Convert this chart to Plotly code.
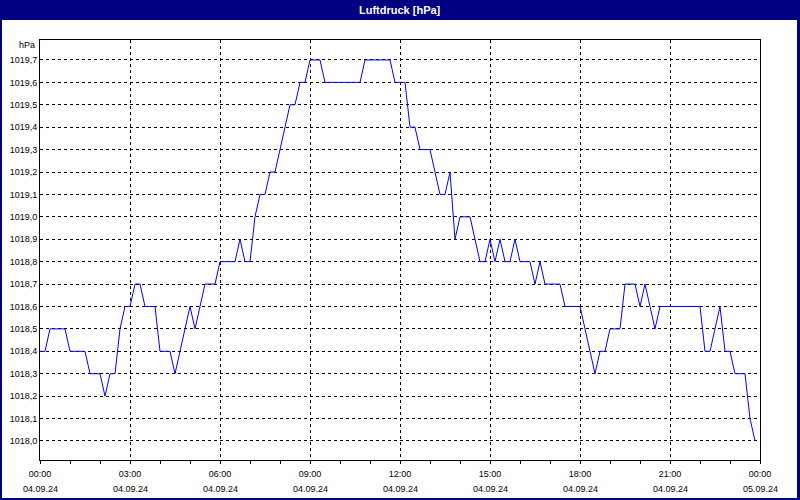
import plotly.graph_objects as go
import pandas as pd

# ---- data (hPa, 10-minute readings, 04.09.24 00:00 .. 23:50) ----
start_time = "2024-09-04 00:00"
step = "10min"
pressure = [
    1018.4, 1018.4, 1018.5, 1018.5, 1018.5, 1018.5, 1018.4, 1018.4, 1018.4, 1018.4,
    1018.3, 1018.3, 1018.3, 1018.2, 1018.3, 1018.3, 1018.5, 1018.6, 1018.6, 1018.7,
    1018.7, 1018.6, 1018.6, 1018.6, 1018.4, 1018.4, 1018.4, 1018.3, 1018.4, 1018.5,
    1018.6, 1018.5, 1018.6, 1018.7, 1018.7, 1018.7, 1018.8, 1018.8, 1018.8, 1018.8,
    1018.9, 1018.8, 1018.8, 1019.0, 1019.1, 1019.1, 1019.2, 1019.2, 1019.3, 1019.4,
    1019.5, 1019.5, 1019.6, 1019.6, 1019.7, 1019.7, 1019.7, 1019.6, 1019.6, 1019.6,
    1019.6, 1019.6, 1019.6, 1019.6, 1019.6, 1019.7, 1019.7, 1019.7, 1019.7, 1019.7,
    1019.7, 1019.6, 1019.6, 1019.6, 1019.4, 1019.4, 1019.3, 1019.3, 1019.3, 1019.2,
    1019.1, 1019.1, 1019.2, 1018.9, 1019.0, 1019.0, 1019.0, 1018.9, 1018.8, 1018.8,
    1018.9, 1018.8, 1018.9, 1018.8, 1018.8, 1018.9, 1018.8, 1018.8, 1018.8, 1018.7,
    1018.8, 1018.7, 1018.7, 1018.7, 1018.7, 1018.6, 1018.6, 1018.6, 1018.6, 1018.5,
    1018.4, 1018.3, 1018.4, 1018.4, 1018.5, 1018.5, 1018.5, 1018.7, 1018.7, 1018.7,
    1018.6, 1018.7, 1018.6, 1018.5, 1018.6, 1018.6, 1018.6, 1018.6, 1018.6, 1018.6,
    1018.6, 1018.6, 1018.6, 1018.4, 1018.4, 1018.5, 1018.6, 1018.4, 1018.4, 1018.3,
    1018.3, 1018.3, 1018.1, 1018.0,
]
times = pd.date_range(start_time, periods=len(pressure), freq=step)

x_ticks = ["2024-09-04 00:00", "2024-09-04 03:00", "2024-09-04 06:00", "2024-09-04 09:00",
           "2024-09-04 12:00", "2024-09-04 15:00", "2024-09-04 18:00", "2024-09-04 21:00",
           "2024-09-05 00:00"]
x_time_labels = ["00:00", "03:00", "06:00", "09:00", "12:00", "15:00", "18:00", "21:00", "00:00"]
x_date_labels = ["04.09.24"] * 8 + ["05.09.24"]
y_ticks = [round(1018.0 + 0.1 * i, 1) for i in range(18)]

title_text = "Luftdruck [hPa]"
unit_text = "hPa"

# ---- layout geometry helpers ----
W, H = 800, 500
ML, MR, MT, MB = 40, 40, 40, 40
PW, PH = W - ML - MR, H - MT - MB


def px(xp):
    return (xp - ML) / PW


def py(yp):
    return (H - MB - yp) / PH


NAVY = "#000080"
FONT = "Liberation Sans"

fig = go.Figure()
fig.add_trace(go.Scatter(
    x=times, y=pressure, mode="lines",
    line=dict(color="#0000ff", width=1),
    hoverinfo="x+y", showlegend=False,
))

shapes = [
    # title bar
    dict(type="rect", xref="paper", yref="paper", x0=px(0), x1=px(W), y0=py(20), y1=py(0),
         fillcolor=NAVY, line=dict(width=0), layer="above"),
    # frame borders
    dict(type="rect", xref="paper", yref="paper", x0=px(0), x1=px(2), y0=py(H), y1=py(0),
         fillcolor=NAVY, line=dict(width=0), layer="above"),
    dict(type="rect", xref="paper", yref="paper", x0=px(W - 3), x1=px(W), y0=py(H), y1=py(0),
         fillcolor=NAVY, line=dict(width=0), layer="above"),
    dict(type="rect", xref="paper", yref="paper", x0=px(0), x1=px(W), y0=py(H), y1=py(H - 2),
         fillcolor=NAVY, line=dict(width=0), layer="above"),
]

annotations = [
    dict(text="<b>" + title_text + "</b>", xref="paper", yref="paper", x=0.5, y=py(10),
         xanchor="center", yanchor="middle", showarrow=False,
         font=dict(family=FONT, size=11, color="white")),
    dict(text=unit_text, xref="paper", yref="paper", x=px(37), y=py(45),
         xanchor="right", yanchor="middle", showarrow=False,
         font=dict(family=FONT, size=9, color="black")),
]
for xv, lab in zip(x_ticks, x_date_labels):
    annotations.append(dict(text=lab, xref="x", yref="paper", x=xv, y=py(489),
                            xanchor="center", yanchor="middle", showarrow=False,
                            font=dict(family=FONT, size=9, color="black")))

fig.update_layout(
    width=W, height=H,
    margin=dict(l=ML, r=MR, t=MT, b=MB, autoexpand=False),
    paper_bgcolor="white", plot_bgcolor="white",
    separators=",.",
    shapes=shapes, annotations=annotations,
    font=dict(family=FONT, size=9, color="black"),
)
fig.update_xaxes(
    range=[x_ticks[0], x_ticks[-1]],
    tickmode="array", tickvals=x_ticks, ticktext=x_time_labels,
    ticks="outside", ticklen=3, tickcolor="black", tickwidth=1,
    minor=dict(dtick=3600000, ticks="outside", ticklen=3, tickcolor="black", showgrid=False),
    showgrid=True, gridcolor="black", griddash="3px,3px", gridwidth=1,
    showline=True, linecolor="black", linewidth=1, mirror=True,
    zeroline=False, tickfont=dict(family=FONT, size=9, color="black"),
    ticklabelstandoff=2,
)
fig.update_yaxes(
    range=[1017.915, 1019.789],
    tickmode="array", tickvals=y_ticks, tickformat=".1f",
    ticks="", showgrid=True, gridcolor="black", griddash="3px,3px", gridwidth=1,
    showline=True, linecolor="black", linewidth=1, mirror=True,
    zeroline=False, tickfont=dict(family=FONT, size=9, color="black"),
)

fig.write_html(
    "out.html",
    config={"displayModeBar": False},
    post_script="document.body.style.margin='0';document.body.style.overflow='hidden';",
)
